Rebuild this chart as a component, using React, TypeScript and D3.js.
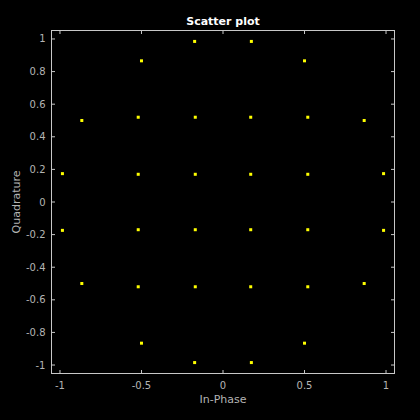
import React from "react";
import * as d3 from "d3";

const inPhase = [
  -0.174, 0.174, -0.5, 0.5, -0.866, 0.866, -0.985, 0.985,
  -0.985, 0.985, -0.866, 0.866, -0.5, 0.5, -0.174, 0.174,
  -0.52, -0.17, 0.17, 0.52,
  -0.52, -0.17, 0.17, 0.52,
  -0.52, -0.17, 0.17, 0.52,
  -0.52, -0.17, 0.17, 0.52,
];
const quadrature = [
  0.985, 0.985, 0.866, 0.866, 0.5, 0.5, 0.174, 0.174,
  -0.174, -0.174, -0.5, -0.5, -0.866, -0.866, -0.985, -0.985,
  0.52, 0.52, 0.52, 0.52,
  0.17, 0.17, 0.17, 0.17,
  -0.17, -0.17, -0.17, -0.17,
  -0.52, -0.52, -0.52, -0.52,
];
const xTicks = [-1, -0.5, 0, 0.5, 1];
const yTicks = [-1, -0.8, -0.6, -0.4, -0.2, 0, 0.2, 0.4, 0.6, 0.8, 1];
const title = "Scatter plot";
const xLabel = "In-Phase";
const yLabel = "Quadrature";

export default function App() {
  const W = 420, H = 420;
  const L = 51.5, R = 394.5, T = 30.5, B = 373.5;
  const x = d3.scaleLinear().domain([-1.052, 1.052]).range([L, R]);
  const y = d3.scaleLinear().domain([-1.052, 1.052]).range([B, T]);
  const axisColor = "#c8c8c8";
  const textColor = "#b4b4b4";
  const font = "DejaVu Sans, sans-serif";
  const tl = 3.5;
  return (
    <svg width={W} height={H} style={{ position: "absolute", left: 0, top: 0, background: "#000" }}>
      <rect x={0} y={0} width={W} height={H} fill="#000" />
      <rect x={L} y={T} width={R - L} height={B - T} fill="none" stroke={axisColor} strokeWidth={1} />
      {xTicks.map((t) => (
        <g key={"x" + t}>
          <line x1={x(t)} x2={x(t)} y1={B} y2={B - tl} stroke={axisColor} />
          <line x1={x(t)} x2={x(t)} y1={T} y2={T + tl} stroke={axisColor} />
          <text x={x(t)} y={B + 15} fontSize={10} fill={textColor} textAnchor="middle" fontFamily={font}>
            {t === 0 ? "0" : String(t)}
          </text>
        </g>
      ))}
      {yTicks.map((t) => (
        <g key={"y" + t}>
          <line x1={L} x2={L + tl} y1={y(t)} y2={y(t)} stroke={axisColor} />
          <line x1={R} x2={R - tl} y1={y(t)} y2={y(t)} stroke={axisColor} />
          <text x={L - 6} y={y(t) + 3.5} fontSize={10} fill={textColor} textAnchor="end" fontFamily={font}>
            {t === 0 ? "0" : String(t)}
          </text>
        </g>
      ))}
      {inPhase.map((v, i) => (
        <rect key={"p" + i} x={x(v) - 1.5} y={y(quadrature[i]) - 1.5} width={3} height={3} fill="#ffff00" />
      ))}
      <text x={(L + R) / 2} y={25} fontSize={11} fontWeight="bold" fill="#ffffff" textAnchor="middle" fontFamily={font}>
        {title}
      </text>
      <text x={(L + R) / 2} y={403} fontSize={11} fill={textColor} textAnchor="middle" fontFamily={font}>
        {xLabel}
      </text>
      <text
        transform={`translate(${20},${(T + B) / 2}) rotate(-90)`}
        fontSize={11}
        fill={textColor}
        textAnchor="middle"
        fontFamily={font}
      >
        {yLabel}
      </text>
    </svg>
  );
}
